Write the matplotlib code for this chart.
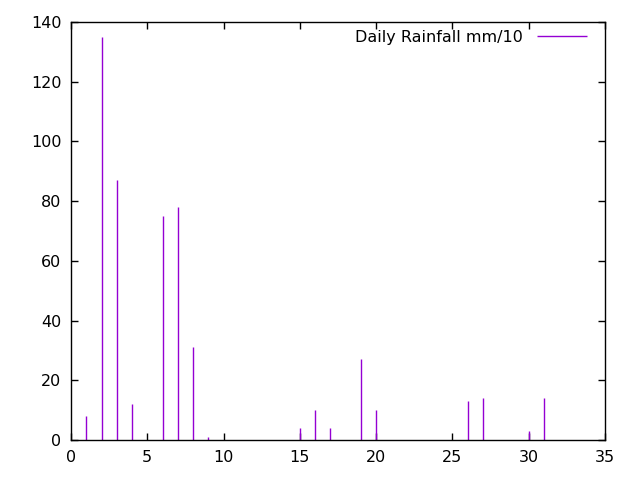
import matplotlib
matplotlib.use("Agg")
import matplotlib.pyplot as plt

# day of month and rainfall (mm/10)
days = [1, 2, 3, 4, 6, 7, 8, 9, 15, 16, 17, 19, 20, 26, 27, 30, 31]
rain = [8, 135, 87, 12, 75, 78, 31, 1, 4, 10, 4, 27, 10, 13, 14, 3, 14]

plt.rcParams['font.family'] = 'DejaVu Sans'
plt.rcParams['font.size'] = 11.5

fig = plt.figure(figsize=(6.4, 4.8), dpi=100)
ax = fig.add_axes([71/640, 40/480, 534/640, 418/480])

ax.vlines(days, 0, rain, colors='#9400D3', lw=1.0, label='Daily Rainfall mm/10')

ax.set_xlim(0, 35)
ax.set_ylim(0, 140)
ax.set_xticks(range(0, 36, 5))
ax.set_yticks(range(0, 141, 20))
ax.tick_params(direction='in', length=5, width=1, top=True, right=True, pad=7, colors='black')
for sp in ax.spines.values():
    sp.set_linewidth(1)

ax.legend(loc='upper right', frameon=False, markerfirst=False, handlelength=3.1,
          borderaxespad=0.0, borderpad=0.0, handletextpad=0.9,
          bbox_to_anchor=(587/640, 1 - 30/480), bbox_transform=fig.transFigure)

fig.savefig('out.png', dpi=100)
